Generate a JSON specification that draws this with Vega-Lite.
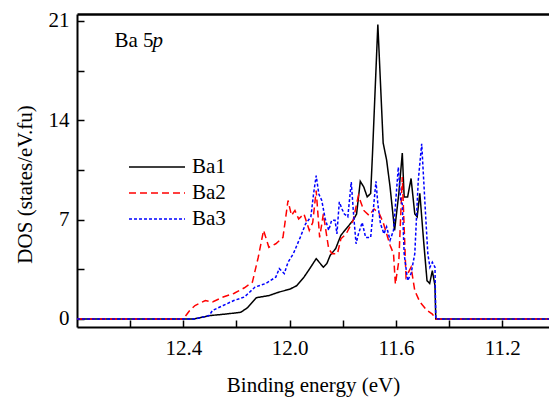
{
  "$schema": "https://vega.github.io/schema/vega-lite/v6.json",
  "width": 472,
  "height": 313,
  "autosize": {"type": "none"},
  "padding": {"left": 77, "top": 14, "right": 0, "bottom": 70},
  "background": "white",
  "config": {
    "font": "Times New Roman",
    "view": {"stroke": null},
    "text": {"font": "Times New Roman"},
    "legend": {"labelFont": "Times New Roman", "titleFont": "Times New Roman"},
    "axis": {
      "domainColor": "black", "domainWidth": 2, "tickColor": "black", "tickWidth": 1.5,
      "tickSize": -7, "grid": false, "labelFontSize": 21, "labelFont": "Times New Roman",
      "titleFont": "Times New Roman",
      "labelColor": "black", "titleFontSize": 21,
      "titleFontWeight": "normal", "titleColor": "black"
    }
  },
  "resolve": {"axis": {"x": "independent"}},
  "layer": [
    {
      "data": {
        "values": [
          {"s":"Ba1","e":12.8,"d":0},{"s":"Ba1","e":12.36,"d":0},{"s":"Ba1","e":12.3,"d":0.24},{"s":"Ba1","e":12.24,"d":0.35},{"s":"Ba1","e":12.184,"d":0.47},{"s":"Ba1","e":12.158,"d":0.8},{"s":"Ba1","e":12.125,"d":1.5},{"s":"Ba1","e":12.078,"d":1.65},{"s":"Ba1","e":12.039,"d":1.9},{"s":"Ba1","e":11.999,"d":2.1},{"s":"Ba1","e":11.973,"d":2.35},{"s":"Ba1","e":11.946,"d":2.95},{"s":"Ba1","e":11.926,"d":3.5},{"s":"Ba1","e":11.9,"d":4.25},{"s":"Ba1","e":11.873,"d":3.65},{"s":"Ba1","e":11.86,"d":3.9},{"s":"Ba1","e":11.847,"d":4.5},{"s":"Ba1","e":11.827,"d":4.95},{"s":"Ba1","e":11.807,"d":5.9},{"s":"Ba1","e":11.781,"d":6.5},{"s":"Ba1","e":11.761,"d":6.95},{"s":"Ba1","e":11.748,"d":7.4},{"s":"Ba1","e":11.734,"d":9.7},{"s":"Ba1","e":11.721,"d":9.3},{"s":"Ba1","e":11.708,"d":8.6},{"s":"Ba1","e":11.695,"d":8.85},{"s":"Ba1","e":11.688,"d":11.7},{"s":"Ba1","e":11.668,"d":20.75},{"s":"Ba1","e":11.648,"d":12.4},{"s":"Ba1","e":11.635,"d":11.2},{"s":"Ba1","e":11.622,"d":9.3},{"s":"Ba1","e":11.605,"d":6.25},{"s":"Ba1","e":11.589,"d":8.85},{"s":"Ba1","e":11.576,"d":11.7},{"s":"Ba1","e":11.569,"d":8.6},{"s":"Ba1","e":11.556,"d":8.6},{"s":"Ba1","e":11.543,"d":9.9},{"s":"Ba1","e":11.529,"d":7.4},{"s":"Ba1","e":11.52,"d":7.2},{"s":"Ba1","e":11.51,"d":8.85},{"s":"Ba1","e":11.496,"d":5.55},{"s":"Ba1","e":11.483,"d":2.7},{"s":"Ba1","e":11.473,"d":2.5},{"s":"Ba1","e":11.463,"d":3.4},{"s":"Ba1","e":11.453,"d":2.35},{"s":"Ba1","e":11.45,"d":0},{"s":"Ba1","e":11.0,"d":0},
          {"s":"Ba2","e":12.8,"d":0},{"s":"Ba2","e":12.4,"d":0},{"s":"Ba2","e":12.376,"d":0.6},{"s":"Ba2","e":12.356,"d":0.95},{"s":"Ba2","e":12.317,"d":1.3},{"s":"Ba2","e":12.29,"d":1.2},{"s":"Ba2","e":12.25,"d":1.55},{"s":"Ba2","e":12.21,"d":1.8},{"s":"Ba2","e":12.17,"d":2.2},{"s":"Ba2","e":12.14,"d":2.6},{"s":"Ba2","e":12.118,"d":4.35},{"s":"Ba2","e":12.098,"d":6.25},{"s":"Ba2","e":12.078,"d":5.05},{"s":"Ba2","e":12.052,"d":5.3},{"s":"Ba2","e":12.025,"d":5.75},{"s":"Ba2","e":12.006,"d":8.35},{"s":"Ba2","e":11.993,"d":7.3},{"s":"Ba2","e":11.98,"d":7.65},{"s":"Ba2","e":11.966,"d":7.05},{"s":"Ba2","e":11.946,"d":7.4},{"s":"Ba2","e":11.926,"d":6.25},{"s":"Ba2","e":11.913,"d":6.8},{"s":"Ba2","e":11.9,"d":9.05},{"s":"Ba2","e":11.887,"d":5.75},{"s":"Ba2","e":11.873,"d":7.4},{"s":"Ba2","e":11.853,"d":4.95},{"s":"Ba2","e":11.84,"d":4.6},{"s":"Ba2","e":11.82,"d":4.6},{"s":"Ba2","e":11.807,"d":5.65},{"s":"Ba2","e":11.787,"d":6.0},{"s":"Ba2","e":11.761,"d":6.95},{"s":"Ba2","e":11.741,"d":8.7},{"s":"Ba2","e":11.721,"d":7.65},{"s":"Ba2","e":11.701,"d":7.3},{"s":"Ba2","e":11.682,"d":7.75},{"s":"Ba2","e":11.662,"d":7.4},{"s":"Ba2","e":11.648,"d":6.8},{"s":"Ba2","e":11.635,"d":6.0},{"s":"Ba2","e":11.622,"d":5.2},{"s":"Ba2","e":11.609,"d":4.6},{"s":"Ba2","e":11.602,"d":2.45},{"s":"Ba2","e":11.589,"d":4.1},{"s":"Ba2","e":11.576,"d":10.0},{"s":"Ba2","e":11.562,"d":2.95},{"s":"Ba2","e":11.543,"d":3.65},{"s":"Ba2","e":11.529,"d":2.0},{"s":"Ba2","e":11.51,"d":1.2},{"s":"Ba2","e":11.483,"d":0.6},{"s":"Ba2","e":11.463,"d":0.35},{"s":"Ba2","e":11.45,"d":0},{"s":"Ba2","e":11.0,"d":0},
          {"s":"Ba3","e":12.8,"d":0},{"s":"Ba3","e":12.356,"d":0},{"s":"Ba3","e":12.303,"d":0.24},{"s":"Ba3","e":12.29,"d":0.6},{"s":"Ba3","e":12.25,"d":0.95},{"s":"Ba3","e":12.21,"d":1.3},{"s":"Ba3","e":12.17,"d":1.55},{"s":"Ba3","e":12.13,"d":2.25},{"s":"Ba3","e":12.09,"d":2.5},{"s":"Ba3","e":12.052,"d":2.95},{"s":"Ba3","e":12.039,"d":3.55},{"s":"Ba3","e":12.02,"d":3.2},{"s":"Ba3","e":12.006,"d":4.0},{"s":"Ba3","e":11.986,"d":4.6},{"s":"Ba3","e":11.96,"d":5.75},{"s":"Ba3","e":11.94,"d":6.7},{"s":"Ba3","e":11.92,"d":7.2},{"s":"Ba3","e":11.91,"d":8.8},{"s":"Ba3","e":11.9,"d":10.1},{"s":"Ba3","e":11.89,"d":8.8},{"s":"Ba3","e":11.879,"d":8.35},{"s":"Ba3","e":11.866,"d":7.05},{"s":"Ba3","e":11.853,"d":6.25},{"s":"Ba3","e":11.842,"d":6.95},{"s":"Ba3","e":11.829,"d":6.95},{"s":"Ba3","e":11.822,"d":6.0},{"s":"Ba3","e":11.813,"d":8.25},{"s":"Ba3","e":11.803,"d":7.75},{"s":"Ba3","e":11.794,"d":7.4},{"s":"Ba3","e":11.781,"d":7.2},{"s":"Ba3","e":11.768,"d":9.65},{"s":"Ba3","e":11.759,"d":7.3},{"s":"Ba3","e":11.75,"d":5.3},{"s":"Ba3","e":11.741,"d":6.0},{"s":"Ba3","e":11.727,"d":6.8},{"s":"Ba3","e":11.714,"d":5.75},{"s":"Ba3","e":11.695,"d":5.75},{"s":"Ba3","e":11.675,"d":9.7},{"s":"Ba3","e":11.668,"d":8.1},{"s":"Ba3","e":11.658,"d":6.7},{"s":"Ba3","e":11.645,"d":6.0},{"s":"Ba3","e":11.635,"d":6.5},{"s":"Ba3","e":11.622,"d":5.55},{"s":"Ba3","e":11.609,"d":6.25},{"s":"Ba3","e":11.591,"d":10.7},{"s":"Ba3","e":11.582,"d":8.35},{"s":"Ba3","e":11.576,"d":8.1},{"s":"Ba3","e":11.569,"d":4.6},{"s":"Ba3","e":11.556,"d":2.7},{"s":"Ba3","e":11.543,"d":3.2},{"s":"Ba3","e":11.529,"d":4.6},{"s":"Ba3","e":11.516,"d":9.75},{"s":"Ba3","e":11.503,"d":12.35},{"s":"Ba3","e":11.49,"d":7.9},{"s":"Ba3","e":11.48,"d":4.6},{"s":"Ba3","e":11.472,"d":3.65},{"s":"Ba3","e":11.463,"d":4.0},{"s":"Ba3","e":11.453,"d":3.65},{"s":"Ba3","e":11.45,"d":0},{"s":"Ba3","e":11.0,"d":0}
        ]
      },
      "mark": {"type": "line", "strokeWidth": 1.5, "clip": true},
      "encoding": {
        "x": {
          "field": "e", "type": "quantitative",
          "scale": {"domain": [12.8, 11.024], "nice": false, "zero": false},
          "axis": {
            "orient": "bottom",
            "values": [12.6, 12.4, 12.2, 12.0, 11.8, 11.6, 11.4, 11.2],
            "labelExpr": "abs(round(datum.value*10)) % 4 == 0 ? format(datum.value, '.1f') : ''",
            "labelPadding": 17, "labelFlush": false, "labelOverlap": false,
            "labelFont": "Times New Roman", "titleFont": "Times New Roman",
            "title": "Binding energy (eV)", "titleY": 64, "titleBaseline": "alphabetic"
          }
        },
        "y": {
          "field": "d", "type": "quantitative",
          "scale": {"domain": [-0.564, 21.49], "nice": false, "zero": false},
          "axis": {
            "values": [0, 3.5, 7, 10.5, 14, 17.5, 21],
            "labelExpr": "datum.value % 7 == 0 ? format(datum.value, 'd') : ''",
            "labelPadding": 15, "labelOverlap": false,
            "labelFont": "Times New Roman", "titleFont": "Times New Roman",
            "title": "DOS (states/eV.fu)", "titleAngle": -90, "titleX": -46, "titleY": 170,
            "titleAlign": "center", "titleBaseline": "alphabetic"
          }
        },
        "color": {
          "field": "s", "type": "nominal",
          "scale": {"domain": ["Ba1", "Ba2", "Ba3"], "range": ["#000000", "#ff0000", "#0000ff"]},
          "legend": {
            "orient": "none", "legendX": 51, "legendY": 140, "title": null,
            "symbolType": "stroke", "symbolSize": 3136, "symbolStrokeWidth": 1.5,
            "labelFont": "Times New Roman", "labelFontSize": 21, "labelColor": "black",
            "labelOffset": 6, "clipHeight": 26, "rowPadding": 0, "padding": 0
          }
        },
        "strokeDash": {
          "field": "s", "type": "nominal",
          "scale": {"domain": ["Ba1", "Ba2", "Ba3"], "range": [[1, 0], [7, 4], [3, 2]]},
          "legend": null
        }
      }
    },
    {
      "data": {"values": [{}]},
      "mark": {"type": "text", "font": "Times New Roman", "fontSize": 21, "align": "left", "baseline": "alphabetic", "color": "black"},
      "encoding": {
        "x": {"datum": 12.659, "type": "quantitative",
          "axis": {"orient": "top", "labels": false, "ticks": false, "title": null, "domainWidth": 2.5}},
        "y": {"datum": 19.19, "type": "quantitative"},
        "text": {"value": "Ba 5"}
      }
    },
    {
      "data": {"values": [{}]},
      "mark": {"type": "text", "font": "Times New Roman", "fontSize": 21, "fontStyle": "italic", "align": "left", "baseline": "alphabetic", "color": "black", "dx": 38},
      "encoding": {
        "x": {"datum": 12.659, "type": "quantitative", "axis": null},
        "y": {"datum": 19.19, "type": "quantitative"},
        "text": {"value": "p"}
      }
    }
  ]
}
